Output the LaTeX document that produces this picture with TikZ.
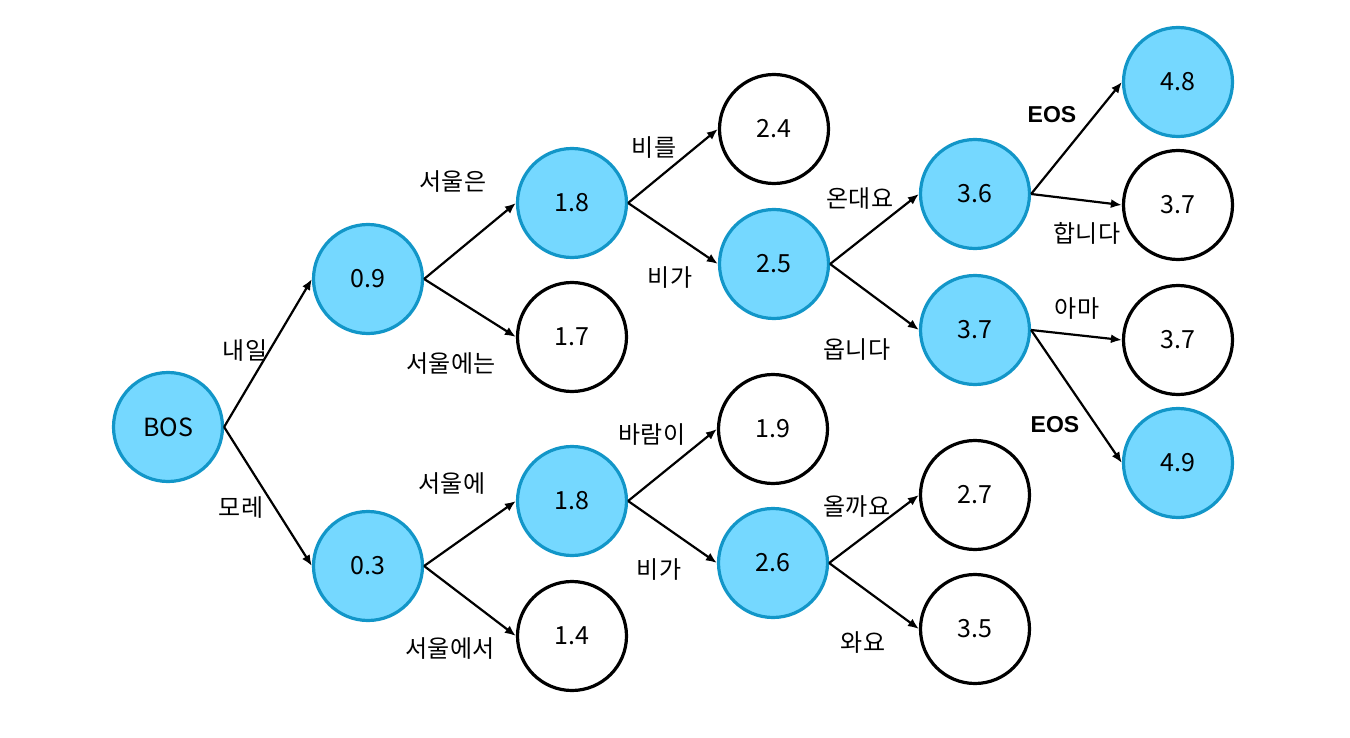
\documentclass[tikz,border=0pt]{standalone}
\usepackage{fontspec}
\setmainfont{Noto Sans CJK KR}
\newfontfamily\eosfont{Liberation Sans}
\usetikzlibrary{arrows.meta}
\definecolor{nodeblue}{RGB}{18,150,200}
\definecolor{nodefill}{RGB}{117,216,255}
\begin{document}
\begin{tikzpicture}[x=0.5pt,y=-0.5pt,
  state/.style={circle, minimum size=54.5pt, inner sep=0pt, line width=1.6pt, font=\fontsize{12.5}{14}\selectfont},
  hot/.style={state, draw=nodeblue, fill=nodefill},
  cold/.style={state, draw=black, fill=white},
  link/.style={-{Latex[length=5.5pt,width=4.5pt]}, line width=1.1pt},
  lbl/.style={font=\fontsize{12}{14}\selectfont, inner sep=0pt},
  eos/.style={font=\eosfont\bfseries\fontsize{11.5}{14}\selectfont, inner sep=0pt}]
\useasboundingbox (0,0) rectangle (1350,738);
% nodes
\node[hot]  (bos)  at (168,427) {BOS};
\node[hot]  (n09)  at (368,279) {0.9};
\node[hot]  (n03)  at (368,566) {0.3};
\node[hot]  (a18)  at (572,203) {1.8};
\node[cold] (a17)  at (572,337) {1.7};
\node[hot]  (b18)  at (572,501) {1.8};
\node[cold] (b14)  at (572,636) {1.4};
\node[cold] (a24)  at (774,129) {2.4};
\node[hot]  (a25)  at (774,264) {2.5};
\node[cold] (b19)  at (773,429) {1.9};
\node[hot]  (b26)  at (773,563) {2.6};
\node[hot]  (c36)  at (975,194) {3.6};
\node[hot]  (c37)  at (975,330) {3.7};
\node[cold] (c27)  at (975,495) {2.7};
\node[cold] (c35)  at (975,629) {3.5};
\node[hot]  (d48)  at (1178,82) {4.8};
\node[cold] (d37a) at (1178,205) {3.7};
\node[cold] (d37b) at (1178,340) {3.7};
\node[hot]  (d49)  at (1178,463) {4.9};
% edges
\draw[link] (bos.east) -- (n09.west);
\draw[link] (bos.east) -- (n03.west);
\draw[link] (n09.east) -- (a18.west);
\draw[link] (n09.east) -- (a17.west);
\draw[link] (n03.east) -- (b18.west);
\draw[link] (n03.east) -- (b14.west);
\draw[link] (a18.east) -- (a24.west);
\draw[link] (a18.east) -- (a25.west);
\draw[link] (b18.east) -- (b19.west);
\draw[link] (b18.east) -- (b26.west);
\draw[link] (a25.east) -- (c36.west);
\draw[link] (a25.east) -- (c37.west);
\draw[link] (b26.east) -- (c27.west);
\draw[link] (b26.east) -- (c35.west);
\draw[link] (c36.east) -- (d48.west);
\draw[link] (c36.east) -- (d37a.west);
\draw[link] (c37.east) -- (d37b.west);
\draw[link] (c37.east) -- (d49.west);
% labels
\node[lbl] (l1)  at (245,351) {내일};
\node[lbl] (l2)  at (241,508) {모레};
\node[lbl] (l3)  at (453,182) {서울은};
\node[lbl] (l4)  at (451,364) {서울에는};
\node[lbl] (l5)  at (452,484) {서울에};
\node[lbl] (l6)  at (450,649) {서울에서};
\node[lbl] (l7)  at (654,148) {비를};
\node[lbl] (l8)  at (670,278) {비가};
\node[lbl] (l9)  at (652,435) {바람이};
\node[lbl] (l10) at (659,570) {비가};
\node[lbl] (l11) at (860,199) {온대요};
\node[lbl] (l12) at (857,350) {옵니다};
\node[lbl] (l13) at (857,507) {올까요};
\node[lbl] (l14) at (863,643) {와요};
\node[eos] (l15) at (1052,115) {EOS};
\node[lbl] (l16) at (1087,233) {합니다};
\node[lbl] (l17) at (1077,309) {아마};
\node[eos] (l18) at (1055,425) {EOS};
\end{tikzpicture}
\end{document}
